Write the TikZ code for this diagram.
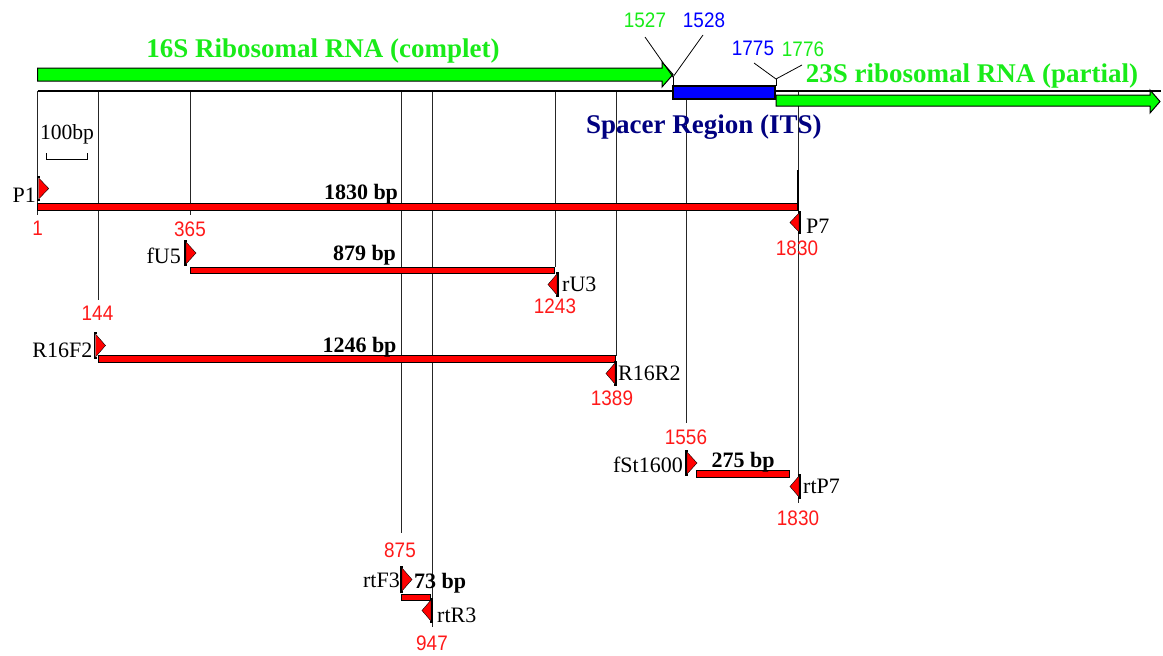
\documentclass[tikz,border=0pt]{standalone}
\usepackage{fontspec}
\setmainfont{Liberation Serif}
\newfontfamily\numfont[FakeStretch=0.9]{Liberation Sans}
\definecolor{brgreen}{RGB}{0,255,0}
\definecolor{txtgreen}{RGB}{25,235,25}
\definecolor{navytxt}{RGB}{0,0,128}
\definecolor{spacerblue}{RGB}{0,0,255}
\definecolor{numred}{RGB}{255,25,25}
\definecolor{numblue}{RGB}{0,0,255}
\newcommand\fwdprimer[3]{%
  \filldraw[fill=red,draw=black,line width=0.4pt] ({#1+1},{#2+1}) -- ({#1+11},{(#2+#3)/2}) -- ({#1+1},{#3-1}) -- cycle;
  \draw[brk] ({#1+2},#2) -- (#1,#2) -- (#1,#3) -- ({#1+2},#3);}
\newcommand\revprimer[3]{%
  \filldraw[fill=red,draw=black,line width=0.4pt] ({#1-1},{#2+1}) -- ({#1-10},{(#2+#3)/2}) -- ({#1-1},{#3-1}) -- cycle;
  \draw[brk] ({#1-2},#2) -- (#1,#2) -- (#1,#3) -- ({#1-2},#3);}
\begin{document}
\begin{tikzpicture}[x=1pt,y=-1pt,
  vline/.style={line width=1pt, black!85},
  bar/.style={fill=red, draw=black, line width=0.8pt},
  brk/.style={line width=1.1pt, black},
  leader/.style={line width=0.8pt, black},
  bplab/.style={font=\fontsize{22}{22}\selectfont\bfseries, inner sep=0, anchor=base},
  plab/.style={font=\fontsize{22}{22}\selectfont, inner sep=0},
  posn/.style={font=\numfont\fontsize{21}{21}\selectfont, text=numred, inner sep=0, anchor=center},
  topn/.style={font=\numfont\fontsize{21}{21}\selectfont, inner sep=0, anchor=center},
  titlelab/.style={font=\fontsize{27}{27}\selectfont\bfseries, inner sep=0, anchor=base}]
\useasboundingbox (0,0) rectangle (1163,656);

% vertical position lines
\foreach \x/\y in {37.7/215, 98/300, 190/215, 401/533, 432/627, 555/267, 616/356, 686/423, 798/503}
  \draw[vline] (\x,91) -- (\x,\y);
\draw[line width=2pt] (798,170) -- (798,211);

% baseline
\draw[line width=2.5pt] (37.7,91) -- (1161,91);

% 16S arrow
\draw[fill=brgreen, draw=black, line width=1pt] (37.7,68) -- (662,68) -- (662,62) -- (673,74.5) -- (662,87) -- (662,81) -- (37.7,81) -- cycle;
% spacer box
\draw[fill=spacerblue, draw=black, line width=1.2pt] (673,86) rectangle (775,99);
% 23S arrow
\draw[fill=brgreen, draw=black, line width=1pt] (776,95) -- (1150,95) -- (1150,90) -- (1160,101.5) -- (1150,113) -- (1150,106) -- (776,106) -- cycle;

% titles
\node[titlelab, text=txtgreen] (t16s) at (323,57) {16S Ribosomal RNA (complet)};
\node[titlelab, text=txtgreen] (t23s) at (972,82) {23S ribosomal RNA (partial)};
\node[titlelab, text=navytxt, anchor=base west] (tits) at (586,133) {Spacer Region (ITS)};

% boundary numbers and leaders
\node[topn, text=txtgreen] (n1527) at (645,20.5) {1527};
\node[topn, text=numblue] (n1528) at (704,20.5) {1528};
\node[topn, text=numblue] (n1775) at (753,48) {1775};
\node[topn, text=txtgreen] (n1776) at (803,49.5) {1776};
\coordinate (j1) at (673,77);
\coordinate (j2) at (776,79);
\draw[leader] (645,37) -- (j1) -- (703,35);
\draw[leader] (j1) -- (673,86);
\draw[leader] (754,63) -- (j2) -- (802,65);
\draw[leader] (j2) -- (776,86);

% scale bar
\node[plab, anchor=base, font=\fontsize{21.6}{22}\selectfont] (scl) at (67,139.5) {100bp};
\draw[line width=1pt] (46.5,153) -- (46.5,159) -- (87,159) -- (87,153);

% product bars
\draw[bar] (37.7,203) rectangle (797,210);
\draw[bar] (190,267) rectangle (554,273);
\draw[bar] (98,355) rectangle (615,362);
\draw[bar] (696,470) rectangle (789,477);
\draw[bar] (401,594) rectangle (430,600);

% primers
\fwdprimer{37.7}{177}{200}
\fwdprimer{185}{241}{265}
\fwdprimer{94.5}{333}{358}
\fwdprimer{686}{451}{475}
\fwdprimer{401}{567}{592}
\revprimer{800}{212}{233}
\revprimer{558}{273}{296}
\revprimer{616}{362}{385}
\revprimer{800}{475}{498}
\revprimer{432}{599}{622}

% primer names
\node[plab, anchor=base east] (lP1) at (36,202.5) {P1};
\node[plab, anchor=base east] (lfU5) at (181,263) {fU5};
\node[plab, anchor=base east] (lR16F2) at (92.5,357) {R16F2};
\node[plab, anchor=base east] (lfSt) at (683,472) {fSt1600};
\node[plab, anchor=base east] (lrtF3) at (400,587) {rtF3};
\node[plab, anchor=base west] (lP7) at (806,233) {P7};
\node[plab, anchor=base west] (lrU3) at (562,291) {rU3};
\node[plab, anchor=base west] (lR16R2) at (618,380) {R16R2};
\node[plab, anchor=base west] (lrtP7) at (803,493) {rtP7};
\node[plab, anchor=base west] (lrtR3) at (437,622) {rtR3};

% product sizes
\node[bplab] (s1830) at (361,199) {1830 bp};
\node[bplab] (s879) at (364.5,260) {879 bp};
\node[bplab] (s1246) at (359.5,352) {1246 bp};
\node[bplab] (s275) at (743,467) {275 bp};
\node[bplab, anchor=base west] (s73) at (414,588) {73 bp};

% positions
\node[posn] (p1) at (37.7,228.5) {1};
\node[posn] (p365) at (190,229.5) {365};
\node[posn] (p144) at (97.5,313.5) {144};
\node[posn] (p1243) at (555,306) {1243};
\node[posn] (p1389) at (612,398) {1389};
\node[posn] (p1556) at (686,437) {1556};
\node[posn] (p1830a) at (797,248) {1830};
\node[posn] (p1830b) at (798,518) {1830};
\node[posn] (p875) at (400,550) {875};
\node[posn] (p947) at (432,643.5) {947};
\end{tikzpicture}
\end{document}
